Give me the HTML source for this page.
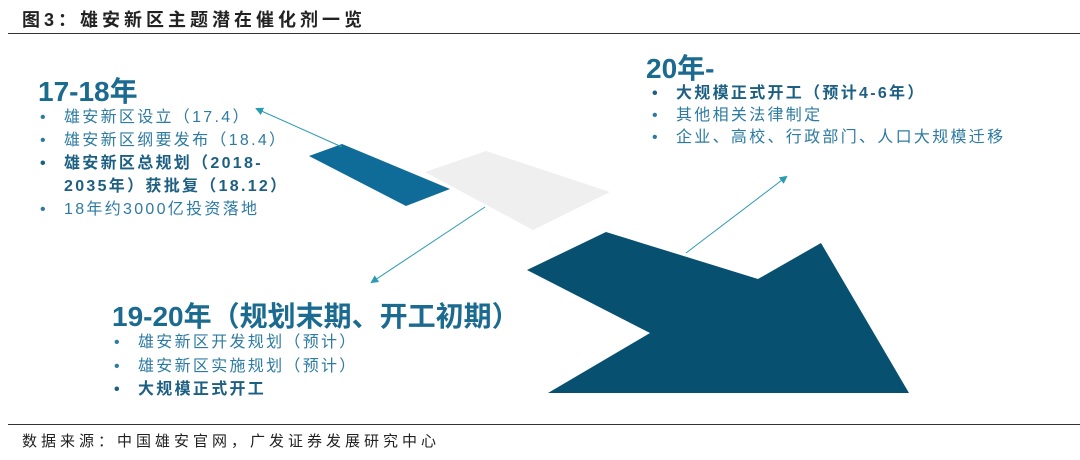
<!DOCTYPE html>
<html><head><meta charset="utf-8"><style>
body{margin:0;width:1080px;height:460px;background:#fff;position:relative;overflow:hidden;font-family:"Liberation Sans","Noto Sans CJK SC",sans-serif}
.a{position:absolute;white-space:nowrap}
.h{font-size:28px;font-weight:bold;color:#1b6a90;line-height:32px}
.it{font-size:16px;color:#2d7ba2;line-height:23px;letter-spacing:2.3px}
.b{font-weight:bold;color:#1d5f82}
.dot{position:absolute;left:-24px}
</style></head><body>
<div class="a" style="left:22px;top:6px;font-size:18px;font-weight:bold;color:#222;letter-spacing:4px">图3：雄安新区主题潜在催化剂一览</div>
<div class="a" style="left:8px;top:33px;width:1072px;height:1px;background:#333"></div>
<svg class="a" style="left:0;top:0" width="1080" height="460">
<defs><marker id="m" markerWidth="8" markerHeight="8" refX="6" refY="4" orient="auto"><path d="M0,0 L8,4 L0,8 z" fill="#2a9bb0"/></marker></defs>
<polygon points="342,144 450,189 406,206 309,156" fill="#0f6b98"/>
<polygon points="486,151 610,192 533,230 425,172" fill="#efefef"/>
<polygon points="606,232 758,279 821,243 909,393 548,393 650,333 527,270" fill="#08506f"/>
<line x1="342" y1="147" x2="257" y2="109" stroke="#2a9bb0" stroke-width="1" marker-end="url(#m)"/>
<line x1="485" y1="207" x2="372" y2="282" stroke="#2a9bb0" stroke-width="1" marker-end="url(#m)"/>
<line x1="686" y1="253" x2="786" y2="177" stroke="#2a9bb0" stroke-width="1" marker-end="url(#m)"/>
</svg>
<div class="a h" style="left:38px;top:76px">17-18年</div>
<div class="a it" style="left:64px;top:106px">
<div style="position:relative"><span class="dot">•</span>雄安新区设立（17.4）</div>
<div style="position:relative"><span class="dot">•</span>雄安新区纲要发布（18.4）</div>
<div style="position:relative" class="b"><span class="dot">•</span>雄安新区总规划（2018-<br>2035年）获批复（18.12）</div>
<div style="position:relative"><span class="dot">•</span>18年约3000亿投资落地</div>
</div>
<div class="a h" style="left:646px;top:53px">20年-</div>
<div class="a it" style="left:676px;top:83px;line-height:22px">
<div style="position:relative" class="b"><span class="dot">•</span>大规模正式开工（预计4-6年）</div>
<div style="position:relative"><span class="dot">•</span>其他相关法律制定</div>
<div style="position:relative"><span class="dot">•</span>企业、高校、行政部门、人口大规模迁移</div>
</div>
<div class="a h" style="left:112px;top:301px">19-20年（规划末期、开工初期）</div>
<div class="a it" style="left:138px;top:331px;line-height:23.5px">
<div style="position:relative"><span class="dot">•</span>雄安新区开发规划（预计）</div>
<div style="position:relative"><span class="dot">•</span>雄安新区实施规划（预计）</div>
<div style="position:relative" class="b"><span class="dot">•</span>大规模正式开工</div>
</div>
<div class="a" style="left:8px;top:424px;width:1072px;height:1px;background:#333"></div>
<div class="a" style="left:22px;top:430px;font-size:15px;color:#222;letter-spacing:4px">数据来源：中国雄安官网，广发证券发展研究中心</div>
</body></html>
